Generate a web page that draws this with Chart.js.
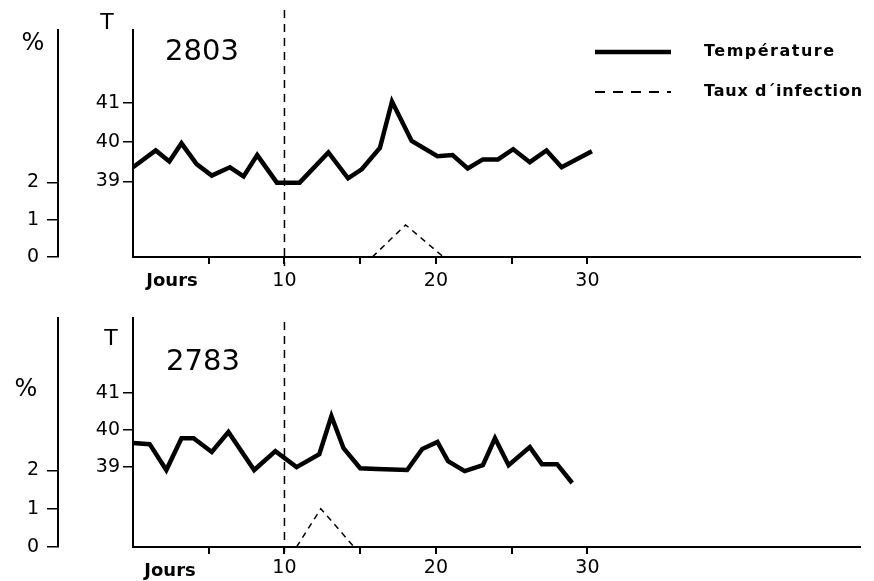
<!DOCTYPE html>
<html>
<head>
<meta charset="utf-8">
<script src="https://cdn.jsdelivr.net/npm/chart.js@4/dist/chart.umd.min.js"></script>
<style>
  html, body { margin: 0; padding: 0; background: #fff; }
  canvas { position: absolute; left: 0; }
</style>
</head>
<body>
<canvas id="chartTop" width="874" height="290" style="top:0"></canvas>
<canvas id="chartBottom" width="874" height="291" style="top:290px"></canvas>
<script>
// animal 2803
const topDays = [0, 1.5, 2.4, 3.2, 4.2, 5.2, 6.4, 7.3, 8.2, 9.5, 11.0, 12.9, 14.2, 15.1, 16.3, 17.1, 18.4, 20.1, 21.1, 22.1, 23.1, 24.1, 25.1, 26.2, 27.3, 28.3, 30.3];
const topTemp = [39.36, 39.79, 39.51, 39.97, 39.44, 39.15, 39.36, 39.13, 39.67, 38.97, 38.97, 39.74, 39.08, 39.31, 39.85, 41.03, 40.03, 39.64, 39.67, 39.33, 39.56, 39.56, 39.82, 39.49, 39.79, 39.36, 39.77];
const topInfDays = [15.8, 18.0, 20.5];
const topInf = [0, 0.86, 0];

// animal 2783
const botDays = [0, 1.1, 2.2, 3.2, 4.0, 5.2, 6.3, 8.0, 9.4, 10.8, 12.3, 13.1, 13.9, 15.0, 16.1, 18.1, 19.1, 20.1, 20.8, 21.9, 23.1, 23.9, 24.8, 26.2, 27.0, 28.0, 29.0];
const botTemp = [39.65, 39.62, 38.92, 39.78, 39.78, 39.41, 39.95, 38.92, 39.43, 39.0, 39.35, 40.38, 39.51, 38.97, 38.95, 38.92, 39.49, 39.68, 39.16, 38.89, 39.05, 39.78, 39.05, 39.54, 39.08, 39.08, 38.57];
const botInfDays = [10.8, 12.4, 14.6];
const botInf = [0, 1.0, 0];

const dayTicks = [5, 10, 15, 20, 25, 30];
const dayLabels = { 10: '10', 20: '20', 30: '30' };
const tempTicks = [39, 40, 41];
const pctTicks = [0, 1, 2];
const inoculationDay = 10;

const FONT = 'DejaVu Sans';

function pts(xs, ys) {
  return xs.map((d, i) => ({ x: d, y: ys[i] }));
}

function textPlugin(cfg) {
  return {
    id: 'texts',
    afterDraw(chart) {
      const ctx = chart.ctx;
      const px = chart.scales.x.getPixelForValue(inoculationDay);
      ctx.save();
      ctx.strokeStyle = '#000';
      ctx.lineWidth = 1.5;
      ctx.setLineDash([8, 6]);
      ctx.beginPath();
      ctx.moveTo(px, cfg.markTop);
      ctx.lineTo(px, cfg.markBottom);
      ctx.stroke();
      ctx.setLineDash([]);
      ctx.fillStyle = '#000';
      ctx.textAlign = 'center';
      ctx.textBaseline = 'middle';
      cfg.texts.forEach(t => {
        ctx.font = t.font;
        ctx.fillText(t.text, t.x, t.y);
      });
      if (cfg.legend) {
        ctx.lineWidth = 4.5;
        ctx.beginPath();
        ctx.moveTo(595, 52);
        ctx.lineTo(671, 52);
        ctx.stroke();
        ctx.lineWidth = 2;
        ctx.setLineDash([10, 8]);
        ctx.beginPath();
        ctx.moveTo(595, 92);
        ctx.lineTo(671, 92);
        ctx.stroke();
        ctx.setLineDash([]);
        ctx.textAlign = 'left';
        ctx.font = 'bold 16px ' + FONT;
        ctx.letterSpacing = '1.5px';
        ctx.fillText('Température', 704, 52);
        ctx.letterSpacing = '0.8px';
        ctx.fillText('Taux d\u00b4infection', 704, 92);
      }
      ctx.restore();
    }
  };
}

function makeChart(id, days, temp, infDays, inf, tRange, pRange, xHeight, padTop, labelPad, cfg) {
  return new Chart(document.getElementById(id), {
    type: 'line',
    data: {
      datasets: [{
        label: 'Température',
        data: pts(days, temp),
        yAxisID: 'T',
        borderColor: '#000',
        borderWidth: 4.5,
        pointRadius: 0,
        tension: 0,
        fill: false
      }, {
        label: "Taux d'infection",
        data: pts(infDays, inf),
        yAxisID: 'pct',
        borderColor: '#000',
        borderWidth: 1.5,
        borderDash: [6, 5],
        pointRadius: 0,
        tension: 0,
        fill: false
      }]
    },
    options: {
      responsive: false,
      animation: false,
      layout: { padding: { top: padTop, right: 14, left: 0, bottom: 0 } },
      plugins: { legend: { display: false }, tooltip: { enabled: false } },
      scales: {
        x: {
          type: 'linear',
          min: 0,
          max: 48,
          afterBuildTicks: s => { s.ticks = dayTicks.map(v => ({ value: v })); },
          afterFit: s => { s.height = xHeight; },
          ticks: {
            callback: v => dayLabels[v] || '',
            color: '#000',
            font: { family: FONT, size: 19 },
            padding: labelPad,
            maxRotation: 0
          },
          grid: { drawOnChartArea: false, color: '#000', lineWidth: 2, tickLength: 7 },
          border: { color: '#000', width: 2 }
        },
        T: {
          type: 'linear',
          position: 'left',
          weight: 0,
          min: tRange[0],
          max: tRange[1],
          afterBuildTicks: s => { s.ticks = tempTicks.map(v => ({ value: v })); },
          afterFit: s => { s.width = 75; },
          ticks: { color: '#000', font: { family: FONT, size: 19 }, padding: 3 },
          grid: { drawOnChartArea: false, color: '#000', lineWidth: 1.5, tickLength: 10 },
          border: { color: '#000', width: 2 }
        },
        pct: {
          type: 'linear',
          position: 'left',
          weight: 10,
          min: pRange[0],
          max: pRange[1],
          afterBuildTicks: s => { s.ticks = pctTicks.map(v => ({ value: v })); },
          afterFit: s => { s.width = 58; },
          ticks: { color: '#000', font: { family: FONT, size: 19 }, padding: 8 },
          grid: { drawOnChartArea: false, color: '#000', lineWidth: 1.5, tickLength: 11 },
          border: { color: '#000', width: 2 }
        }
      }
    },
    plugins: [textPlugin(cfg)]
  });
}

makeChart('chartTop', topDays, topTemp, topInfDays, topInf,
  [37.08, 42.85], [0, 6.08], 33, 30, 6, {
    markTop: 10, markBottom: 266, legend: true,
    texts: [
      { text: '%', x: 33, y: 44, font: '24px ' + FONT },
      { text: 'T', x: 107, y: 23, font: '22px ' + FONT },
      { text: '2803', x: 202, y: 52, font: '29px ' + FONT },
      { text: 'Jours', x: 172, y: 281, font: 'bold 18px ' + FONT }
    ]
  });

makeChart('chartBottom', botDays, botTemp, botInfDays, botInf,
  [36.84, 43.03], [0, 5.98], 34, 28, 3, {
    markTop: 32, markBottom: 262, legend: false,
    texts: [
      { text: '%', x: 26, y: 100, font: '24px ' + FONT },
      { text: 'T', x: 111, y: 49, font: '22px ' + FONT },
      { text: '2783', x: 203, y: 72, font: '29px ' + FONT },
      { text: 'Jours', x: 170, y: 281, font: 'bold 18px ' + FONT }
    ]
  });
</script>
</body>
</html>
